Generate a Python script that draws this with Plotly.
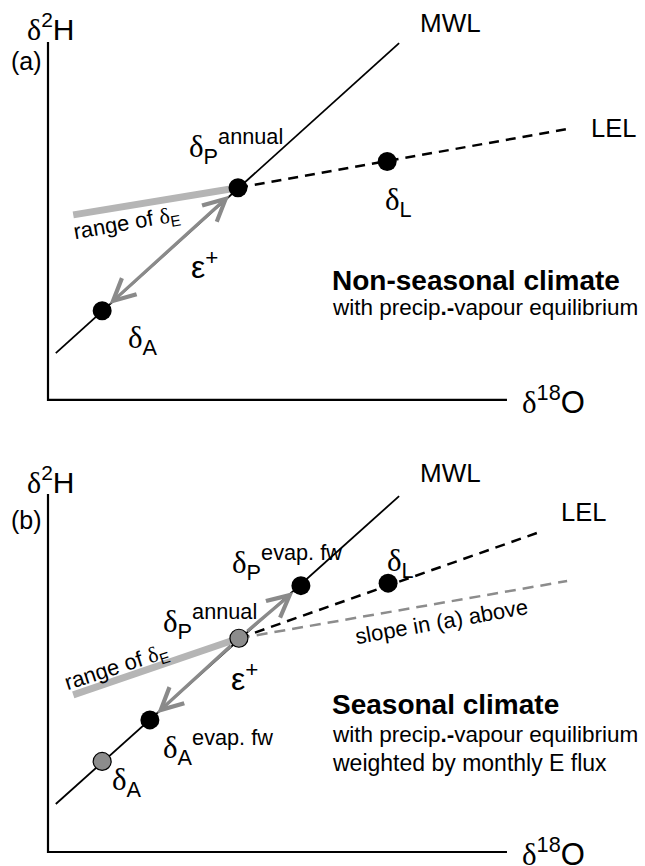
import plotly.graph_objects as go

SANS = "Liberation Sans, Arial, Helvetica, sans-serif"
SERIF = "Liberation Serif, Times New Roman, serif"
D = '<span style="font-family:Liberation Serif">δ</span>'

# ---------------- data (schematic δ18O / δ2H units) ----------------
axis_x = [0, 0, 10]
axis_y = [10, 0, 0]

# panel (a): non-seasonal climate
a_mwl_x = [0.17, 7.65]
a_mwl_y = [1.31, 9.97]
a_lel_x = [4.14, 11.31]
a_lel_y = [5.93, 7.57]
a_rangeE_x = [0.55, 4.14]
a_rangeE_y = [5.17, 5.93]
a_black_names = ["δP annual", "δA", "δL"]
a_black_x = [4.14, 1.18, 7.39]
a_black_y = [5.93, 2.49, 6.66]

# panel (b): seasonal climate
b_mwl_x = [0.17, 7.65]
b_mwl_y = [1.34, 9.94]
b_lel_x = [4.16, 10.65]
b_lel_y = [5.97, 8.91]
b_slope_a_x = [4.16, 11.31]
b_slope_a_y = [5.97, 7.57]
b_rangeE_x = [0.55, 4.16]
b_rangeE_y = [4.39, 5.97]
b_black_names = ["δP evap. fw", "δA evap. fw", "δL"]
b_black_x = [5.51, 2.22, 7.41]
b_black_y = [7.44, 3.69, 7.51]
b_grey_names = ["δP annual", "δA"]
b_grey_x = [4.16, 1.18]
b_grey_y = [5.97, 2.53]

BLACK = "#000000"
ARROW = "#8a8a8a"
LIGHT = "#b5b5b5"
GREYDOT = "#8c8c8c"

fig = go.Figure()


def line(x, y, xr, yr, color, width, dash=None):
    fig.add_trace(go.Scatter(x=x, y=y, mode="lines", xaxis=xr, yaxis=yr,
                             line=dict(color=color, width=width, dash=dash),
                             hoverinfo="skip", showlegend=False))


def dots(x, y, xr, yr, fill, outline):
    fig.add_trace(go.Scatter(x=x, y=y, mode="markers", xaxis=xr, yaxis=yr,
                             marker=dict(size=19 if outline == 0 else 18, color=fill,
                                         line=dict(color=BLACK, width=outline)),
                             hoverinfo="skip", showlegend=False))


# panel (a)
line(axis_x, axis_y, "x", "y", BLACK, 2.2)
line(a_mwl_x, a_mwl_y, "x", "y", BLACK, 1.8)
line(a_lel_x, a_lel_y, "x", "y", BLACK, 2.5, "10px,7px")
line(a_rangeE_x, a_rangeE_y, "x", "y", LIGHT, 7)
dots(a_black_x, a_black_y, "x", "y", BLACK, 0)

# panel (b)
line(axis_x, axis_y, "x2", "y2", BLACK, 2.2)
line(b_mwl_x, b_mwl_y, "x2", "y2", BLACK, 1.8)
line(b_slope_a_x, b_slope_a_y, "x2", "y2", GREYDOT, 2.5, "11px,7px")
line(b_lel_x, b_lel_y, "x2", "y2", BLACK, 2.5, "10px,7px")
line(b_rangeE_x, b_rangeE_y, "x2", "y2", LIGHT, 7)
dots(b_black_x, b_black_y, "x2", "y2", BLACK, 0)
dots(b_grey_x, b_grey_y, "x2", "y2", GREYDOT, 1.2)

ann = []


def text(s, x, y, xr, yr, size, xanchor="left", angle=0, color=BLACK):
    ann.append(dict(text=s, x=x, y=y, xref=xr, yref=yr, showarrow=False,
                    xanchor=xanchor, yanchor="middle", textangle=angle,
                    font=dict(family=SANS, size=size, color=color)))


def arrow(x0, y0, x1, y1, xr, yr, both, s0, s1):
    ann.append(dict(text="", x=x1, y=y1, ax=x0, ay=y0, xref=xr, yref=yr,
                    axref=xr, ayref=yr, showarrow=True,
                    arrowhead=5, startarrowhead=5,
                    arrowside="end+start" if both else "end",
                    arrowsize=1.3, startarrowsize=1.3, arrowwidth=3.3,
                    arrowcolor=ARROW, standoff=s1, startstandoff=s0))


for xr, yr, tag, ylab_y, tag_y, mwl_xy, lel_xy in [
        ("x", "y", "(a)", 10.42, 9.47, (8.78, 10.53), (12.31, 7.60)),
        ("x2", "y2", "(b)", 10.39, 9.27, (8.78, 10.59), (11.66, 9.50))]:
    text(D + "<sup>2</sup>H", 0.07, ylab_y, xr, yr, 30, "center")
    text(tag, -0.09, tag_y, xr, yr, 25, "right")
    text(D + "<sup>18</sup>O", 10.28, 0.0, xr, yr, 31, "left")
    text("MWL", mwl_xy[0], mwl_xy[1], xr, yr, 26, "center")
    text("LEL", lel_xy[0], lel_xy[1], xr, yr, 25.5, "center")

XT = 6.145
# panel (a) labels
text(D + "<sub>P</sub><sup>annual</sup>", 3.02, 7.09, "x", "y", 31)
text(D + "<sub>A</sub>", 1.70, 1.68, "x", "y", 31)
text(D + "<sub>L</sub>", 7.30, 5.53, "x", "y", 31)
text("ε<sup>+</sup>", 3.40, 3.77, "x", "y", 32, "center")
text("range of " + D + "<sub>E</sub>", 1.72, 4.92, "x", "y", 22, "center", -10)
text("<b>Non-seasonal climate</b>", XT, 3.35, "x", "y", 28)
text("with precip<b>.-</b>vapour equilibrium", XT, 2.57, "x", "y", 22.5)
arrow(a_black_x[0], a_black_y[0], a_black_x[1], a_black_y[1], "x", "y", True, 10, 10)

# panel (b) labels
text(D + "<sub>P</sub><sup>evap. fw</sup>", 3.97, 8.10, "x2", "y2", 31)
text(D + "<sub>P</sub><sup>annual</sup>", 2.46, 6.45, "x2", "y2", 31)
text(D + "<sub>A</sub><sup>evap. fw</sup>", 2.46, 2.93, "x2", "y2", 31)
text(D + "<sub>A</sub>", 1.35, 1.955, "x2", "y2", 31)
text(D + "<sub>L</sub>", 7.35, 8.07, "x2", "y2", 31)
text("ε<sup>+</sup>", 4.29, 4.89, "x2", "y2", 32, "center")
text("range of " + D + "<sub>E</sub>", 1.50, 5.14, "x2", "y2", 22, "center", -18)
text("slope in (a) above", 8.58, 6.45, "x2", "y2", 22, "center", -10)
text("<b>Seasonal climate</b>", XT, 4.11, "x2", "y2", 28)
text("with precip<b>.-</b>vapour equilibrium", XT, 3.27, "x2", "y2", 22.5)
text("weighted by monthly E flux", XT, 2.49, "x2", "y2", 23)
arrow(b_grey_x[0], b_grey_y[0], b_black_x[0], b_black_y[0], "x2", "y2", False, 9, 10)
arrow(b_grey_x[0], b_grey_y[0], b_black_x[1], b_black_y[1], "x2", "y2", False, 9, 10)

XR = [-1.0458, 13.007]
fig.update_layout(
    width=645, height=866, autosize=False,
    margin=dict(l=0, r=0, t=0, b=0),
    paper_bgcolor="white", plot_bgcolor="white",
    showlegend=False, annotations=ann,
    font=dict(family=SANS, color=BLACK),
    xaxis=dict(domain=[0, 1], range=XR, visible=False, fixedrange=True),
    yaxis=dict(domain=[0.5035, 1], range=[-0.838, 11.173], visible=False, fixedrange=True),
    xaxis2=dict(domain=[0, 1], range=XR, visible=False, fixedrange=True, anchor="y2"),
    yaxis2=dict(domain=[0, 0.5035], range=[-0.391, 11.788], visible=False, fixedrange=True, anchor="x2"),
)

fig.write_html("out.html", config=dict(displayModeBar=False))
